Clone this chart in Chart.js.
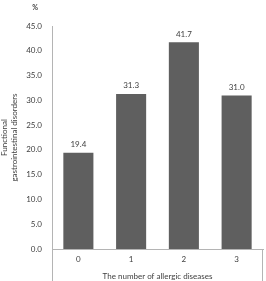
<!DOCTYPE html>
<html>
<head>
<meta charset="utf-8">
<script src="https://cdn.jsdelivr.net/npm/chart.js@4"></script>
<style>
html,body{margin:0;padding:0;background:#fff;}
#wrap{width:266px;height:281px;}
</style>
</head>
<body>
<div id="wrap"><canvas id="c" width="266" height="281"></canvas></div>
<script>
const categories = ['0', '1', '2', '3'];
const values = [19.4, 31.3, 41.7, 31.0];
const yTitle = ['Functional', 'gastrointestinal disorders'];
const xTitle = 'The number of allergic diseases';
const unitLabel = '%';

const FONT = 'Lato, "Open Sans", sans-serif';
const TXT = '#404040';

const extras = {
  id: 'extras',
  afterDraw(chart) {
    const ctx = chart.ctx;
    const a = chart.chartArea;
    ctx.save();
    // box lines below plot
    ctx.strokeStyle = '#b4b4b4';
    ctx.lineWidth = 1;
    ctx.beginPath();
    ctx.moveTo(Math.round(a.left) + 0.5, a.bottom);
    ctx.lineTo(Math.round(a.left) + 0.5, chart.height);
    ctx.moveTo(Math.round(a.right) - 0.5, a.bottom);
    ctx.lineTo(Math.round(a.right) - 0.5, chart.height);
    ctx.stroke();
    // data labels
    ctx.fillStyle = TXT;
    ctx.font = '8px ' + FONT;
    ctx.textAlign = 'center';
    ctx.textBaseline = 'bottom';
    const meta = chart.getDatasetMeta(0);
    meta.data.forEach((bar, i) => {
      ctx.fillText(values[i].toFixed(1), bar.x, bar.y - 4);
    });
    // unit label
    ctx.font = 'bold 7px ' + FONT;
    ctx.textBaseline = 'middle';
    ctx.fillText(unitLabel, 35, 8);
    ctx.restore();
  }
};

new Chart(document.getElementById('c'), {
  type: 'bar',
  data: {
    labels: categories,
    datasets: [{
      data: values,
      backgroundColor: '#5f5f5f',
      borderWidth: 0,
      categoryPercentage: 0.57,
      barPercentage: 1.0
    }]
  },
  options: {
    responsive: false,
    animation: false,
    devicePixelRatio: 1,
    layout: { padding: { left: 0, right: 3, top: 26, bottom: 0 } },
    plugins: { legend: { display: false }, tooltip: { enabled: false } },
    scales: {
      x: {
        grid: { display: false, drawTicks: false },
        border: { color: '#b4b4b4' },
        ticks: { color: TXT, font: { family: FONT, size: 8 }, padding: 6 },
        title: { display: true, text: xTitle, color: TXT, font: { family: FONT, size: 8 }, padding: { top: 4, bottom: 0 } },
        afterFit(s) { s.height = 32; }
      },
      y: {
        min: 0, max: 45,
        grid: { display: false, drawTicks: false },
        border: { color: '#b4b4b4' },
        ticks: {
          stepSize: 5,
          color: TXT,
          font: { family: FONT, size: 8 },
          padding: 10,
          callback: v => v.toFixed(1)
        },
        title: { display: true, text: yTitle, color: TXT, font: { family: FONT, size: 8 }, padding: 0 },
        afterFit(s) { s.width = 52; }
      }
    }
  },
  plugins: [extras]
});
</script>
</body>
</html>
